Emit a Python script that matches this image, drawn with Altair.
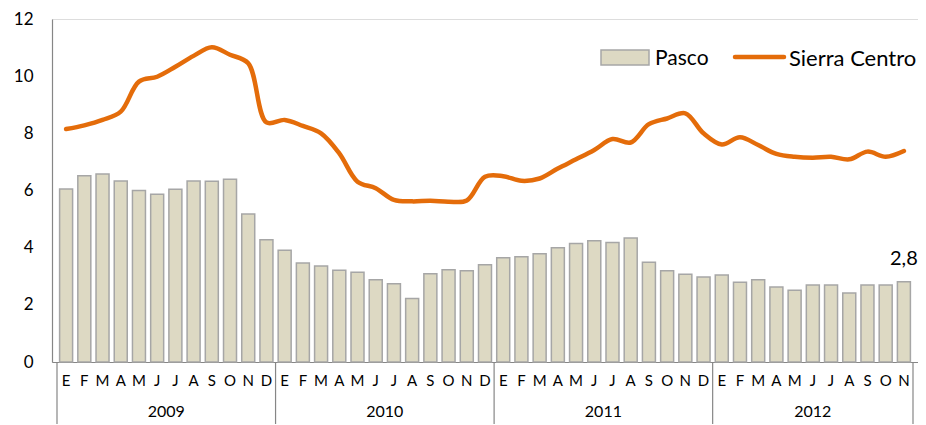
import altair as alt
import pandas as pd

months = ["E", "F", "M", "A", "M", "J", "J", "A", "S", "O", "N", "D"]
years = ["2009", "2010", "2011", "2012"]
pasco = [6.05, 6.52, 6.58, 6.33, 6.00, 5.87, 6.04, 6.33, 6.32, 6.39, 5.18, 4.28,
         3.91, 3.46, 3.36, 3.21, 3.14, 2.88, 2.74, 2.22, 3.09, 3.23, 3.19, 3.40,
         3.65, 3.68, 3.79, 4.00, 4.15, 4.24, 4.18, 4.34, 3.49, 3.19, 3.07, 2.97,
         3.04, 2.79, 2.88, 2.62, 2.51, 2.69, 2.69, 2.41, 2.69, 2.69, 2.81]
sierra = [8.15, 8.28, 8.47, 8.76, 9.81, 9.98, 10.33, 10.71, 11.01, 10.75, 10.45, 8.38,
          8.47, 8.26, 8.00, 7.30, 6.31, 6.08, 5.67, 5.62, 5.64, 5.61, 5.65, 6.48,
          6.50, 6.34, 6.42, 6.77, 7.09, 7.42, 7.80, 7.68, 8.32, 8.52, 8.70, 8.00,
          7.61, 7.86, 7.59, 7.28, 7.18, 7.15, 7.18, 7.09, 7.36, 7.18, 7.38]
series = ["Pasco", "Sierra Centro"]

n = len(pasco)
df = pd.DataFrame({
    "pos": [i + 0.5 for i in range(n)],
    "mes": [months[i % 12] for i in range(n)],
    "anio": [years[i // 12] for i in range(n)],
    "Pasco": pasco,
    "Sierra": sierra,
})

yr = df.groupby("anio")["pos"].agg(["min", "max"]).reset_index()
yr["centro"] = (yr["min"] + yr["max"]) / 2
bounds = pd.DataFrame({"b": sorted(set(list(yr["min"] - 0.5) + list(yr["max"] + 0.5)))})

lab = df.tail(1).copy()
lab["txt"] = lab["Pasco"].map(lambda v: f"{v:.1f}".replace(".", ","))

W, H = 866, 343
FONT = "Lato"

xscale = alt.Scale(domain=[0, n], nice=False, zero=False)
yscale = alt.Scale(domain=[0, 12], nice=False)

xaxis = alt.Axis(values=[0, n], labels=False, ticks=False, tickSize=0, grid=False,
                 domainColor="#868686", domainWidth=1.2, title=None)
yaxis = alt.Axis(values=[0, 2, 4, 6, 8, 10, 12], ticks=False, tickSize=0, grid=False,
                 domainColor="#868686", domainWidth=1.2, labelFontSize=17, labelPadding=19,
                 labelColor="#000000", labelFont=FONT, title=None)

base = alt.Chart(df)

bars = base.mark_bar(size=13, color="#DDD9C3", stroke="#A6A6A6", strokeWidth=1.5).encode(
    x=alt.X("pos:Q", scale=xscale, axis=xaxis),
    y=alt.Y("Pasco:Q", scale=yscale, axis=yaxis),
)

line = base.mark_line(color="#E46C0A", strokeWidth=4.5, interpolate="catmull-rom",
                      strokeCap="round").encode(
    x=alt.X("pos:Q", scale=xscale),
    y=alt.Y("Sierra:Q", scale=yscale),
)

month_txt = base.mark_text(fontSize=15, font=FONT, baseline="middle", align="center",
                           color="#000000").encode(
    x=alt.X("pos:Q", scale=xscale),
    y=alt.value(H + 19),
    text="mes:N",
)

last_label = alt.Chart(lab).mark_text(fontSize=20, font=FONT, dy=-17, baseline="alphabetic",
                                      align="center", color="#000000").encode(
    x=alt.X("pos:Q", scale=xscale),
    y=alt.Y("Pasco:Q", scale=yscale),
    text="txt:N",
)

seps = alt.Chart(bounds).mark_rule(color="#868686", strokeWidth=1.2).encode(
    x=alt.X("b:Q", scale=xscale),
    y=alt.value(H),
    y2=alt.value(H + 62),
)

year_txt = alt.Chart(yr).mark_text(fontSize=16, font=FONT, baseline="alphabetic",
                                   color="#000000").encode(
    x=alt.X("centro:Q", scale=xscale),
    y=alt.value(H + 55),
    text="anio:N",
)

leg = pd.DataFrame({"name": series})
leg_rect = alt.Chart(leg).transform_filter(alt.datum.name == series[0]).mark_rect(
    color="#DDD9C3", stroke="#A6A6A6", strokeWidth=1.5).encode(
    x=alt.value(549), x2=alt.value(597), y=alt.value(31), y2=alt.value(46))
leg_line = alt.Chart(leg).transform_filter(alt.datum.name == series[1]).mark_rule(
    color="#E46C0A", strokeWidth=4.5, strokeCap="round").encode(
    x=alt.value(683), x2=alt.value(732), y=alt.value(38))
leg_txt1 = alt.Chart(leg).transform_filter(alt.datum.name == series[0]).mark_text(
    fontSize=21, font=FONT, align="left", baseline="middle", color="#000000").encode(
    x=alt.value(603), y=alt.value(39.5), text="name:N")
leg_txt2 = alt.Chart(leg).transform_filter(alt.datum.name == series[1]).mark_text(
    fontSize=22, font=FONT, align="left", baseline="middle", color="#000000").encode(
    x=alt.value(737), y=alt.value(39.5), text="name:N")

chart = alt.layer(bars, line, month_txt, last_label, seps, year_txt,
                  leg_rect, leg_line, leg_txt1, leg_txt2).properties(
    width=W, height=H,
    autosize=alt.AutoSizeParams(type="none"),
    padding={"left": 44, "top": 11, "right": 0, "bottom": 62},
).configure_view(stroke=None).configure(font=FONT, background="white")

chart.save("out.html", embed_options={"renderer": "svg", "actions": False})
